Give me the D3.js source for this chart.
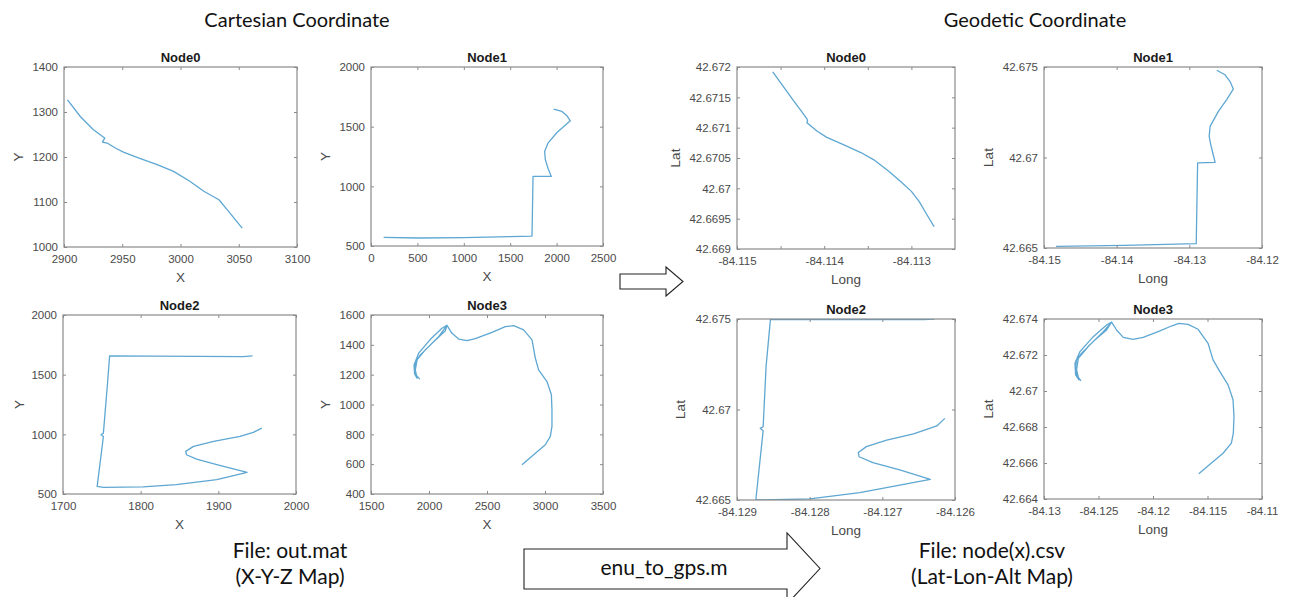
<!DOCTYPE html>
<html>
<head>
<meta charset="utf-8">
<script src="https://cdn.jsdelivr.net/npm/d3@7"></script>
<style>
  html, body { margin: 0; padding: 0; background: #fff; }
  svg { display: block; }
</style>
</head>
<body>
<svg id="chart" width="1291" height="597"></svg>
<script>
// ---------------- DATA ----------------
// Cartesian coordinate trajectories [X, Y]
const cartNode0 = [[2903,1327],[2914,1290],[2925,1261],[2934,1244],[2935,1242],[2933,1233],[2937,1231],[2944,1220],[2951,1211],[2965,1197],[2980,1183],[2994,1168],[3008,1146],[3020,1124],[3033,1105],[3040,1083],[3047,1061],[3053,1042]];
const cartNode1 = [[136,572],[500,567],[1000,570],[1500,578],[1735,583],[1746,1083],[1943,1083],[1907,1152],[1879,1222],[1871,1292],[1907,1362],[2004,1451],[2148,1549],[2112,1591],[2058,1628],[1968,1647]];
const cartNode2 = [[1944,1657],[1932,1652],[1760,1657],[1757,1401],[1752,1010],[1749,996],[1752,982],[1744,564],[1752,556],[1803,559],[1846,578],[1898,620],[1937,681],[1898,746],[1872,793],[1859,829],[1858,857],[1868,899],[1894,941],[1928,983],[1945,1016],[1956,1052]];
const cartNode3 = [[1920,1170],[1888,1199],[1876,1243],[1888,1288],[1925,1332],[2026,1410],[2141,1495],[2155,1531],[2112,1511],[2012,1437],[1911,1344],[1871,1265],[1876,1205],[1897,1176],[1882,1232],[1897,1299],[1968,1366],[2083,1455],[2155,1531],[2198,1477],[2256,1439],[2328,1428],[2399,1442],[2543,1484],[2658,1522],[2730,1529],[2816,1500],[2888,1433],[2917,1310],[2945,1232],[3017,1154],[3055,1065],[3060,964],[3060,853],[3046,786],[3003,730],[2917,674],[2802,596]];

// Geodetic coordinate trajectories [Long, Lat]
const geoNode0 = [[-84.11459,42.67192],[-84.11447,42.67168],[-84.11435,42.67144],[-84.11426,42.67127],[-84.11420,42.67115],[-84.11419,42.67111],[-84.11420,42.67108],[-84.11417,42.67105],[-84.11408,42.67094],[-84.11397,42.67084],[-84.11378,42.67072],[-84.11358,42.67059],[-84.11343,42.67047],[-84.11326,42.67028],[-84.11312,42.67011],[-84.11300,42.66995],[-84.11291,42.66978],[-84.11282,42.66956],[-84.11274,42.66937]];
const geoNode1 = [[-84.14836,42.66509],[-84.13895,42.66515],[-84.12905,42.66524],[-84.12886,42.66970],[-84.12645,42.66973],[-84.12677,42.67025],[-84.12705,42.67071],[-84.12727,42.67117],[-84.12714,42.67172],[-84.12600,42.67255],[-84.12486,42.67320],[-84.12395,42.67378],[-84.12441,42.67421],[-84.12509,42.67457],[-84.12623,42.67482]];
const geoNode2 = [[-84.12628,42.67500],[-84.12644,42.67496],[-84.12854,42.67498],[-84.12860,42.67237],[-84.12864,42.66905],[-84.12868,42.66896],[-84.12864,42.66883],[-84.12874,42.66504],[-84.12869,42.66500],[-84.12800,42.66506],[-84.12731,42.66541],[-84.12634,42.66614],[-84.12676,42.66666],[-84.12713,42.66706],[-84.12732,42.66739],[-84.12733,42.66762],[-84.12722,42.66795],[-84.12694,42.66831],[-84.12657,42.66865],[-84.12625,42.66909],[-84.12614,42.66951]];
const geoNode3 = [[-84.12661,42.67056],[-84.12701,42.67089],[-84.12710,42.67136],[-84.12701,42.67173],[-84.12655,42.67210],[-84.12533,42.67284],[-84.12426,42.67339],[-84.12380,42.67383],[-84.12426,42.67367],[-84.12548,42.67302],[-84.12670,42.67219],[-84.12716,42.67154],[-84.12710,42.67089],[-84.12679,42.67062],[-84.12701,42.67117],[-84.12685,42.67182],[-84.12594,42.67247],[-84.12456,42.67330],[-84.12380,42.67383],[-84.12334,42.67339],[-84.12273,42.67298],[-84.12182,42.67287],[-84.12090,42.67298],[-84.11953,42.67330],[-84.11831,42.67361],[-84.11763,42.67376],[-84.11678,42.67370],[-84.11586,42.67343],[-84.11495,42.67265],[-84.11449,42.67173],[-84.11388,42.67109],[-84.11311,42.67034],[-84.11266,42.66951],[-84.11257,42.66858],[-84.11263,42.66766],[-84.11281,42.66710],[-84.11357,42.66654],[-84.11464,42.66600],[-84.11580,42.66540]];

// Tick values and labels
const cartNode0XTicks = [2900,2950,3000,3050,3100];
const cartNode0XLabels = ["2900","2950","3000","3050","3100"];
const cartNode0YTicks = [1000,1100,1200,1300,1400];
const cartNode0YLabels = ["1000","1100","1200","1300","1400"];

const cartNode1XTicks = [0,500,1000,1500,2000,2500];
const cartNode1XLabels = ["0","500","1000","1500","2000","2500"];
const cartNode1YTicks = [500,1000,1500,2000];
const cartNode1YLabels = ["500","1000","1500","2000"];

const cartNode2XTicks = [1700,1800,1900,2000];
const cartNode2XLabels = ["1700","1800","1900","2000"];
const cartNode2YTicks = [500,1000,1500,2000];
const cartNode2YLabels = ["500","1000","1500","2000"];

const cartNode3XTicks = [1500,2000,2500,3000,3500];
const cartNode3XLabels = ["1500","2000","2500","3000","3500"];
const cartNode3YTicks = [400,600,800,1000,1200,1400,1600];
const cartNode3YLabels = ["400","600","800","1000","1200","1400","1600"];

const geoNode0XTicks = [-84.115,-84.1145,-84.114,-84.1135,-84.113];
const geoNode0XLabels = ["-84.115","","-84.114","","-84.113"];
const geoNode0YTicks = [42.669,42.6695,42.67,42.6705,42.671,42.6715,42.672];
const geoNode0YLabels = ["42.669","42.6695","42.67","42.6705","42.671","42.6715","42.672"];

const geoNode1XTicks = [-84.15,-84.14,-84.13,-84.12];
const geoNode1XLabels = ["-84.15","-84.14","-84.13","-84.12"];
const geoNode1YTicks = [42.665,42.67,42.675];
const geoNode1YLabels = ["42.665","42.67","42.675"];

const geoNode2XTicks = [-84.129,-84.128,-84.127,-84.126];
const geoNode2XLabels = ["-84.129","-84.128","-84.127","-84.126"];
const geoNode2YTicks = [42.665,42.67,42.675];
const geoNode2YLabels = ["42.665","42.67","42.675"];

const geoNode3XTicks = [-84.13,-84.125,-84.12,-84.115,-84.11];
const geoNode3XLabels = ["-84.13","-84.125","-84.12","-84.115","-84.11"];
const geoNode3YTicks = [42.664,42.666,42.668,42.67,42.672,42.674];
const geoNode3YLabels = ["42.664","42.666","42.668","42.67","42.672","42.674"];

// ---------------- LAYOUT ----------------
const panels = [
  {title:"Node0", data:cartNode0, xd:[2900,3100], yd:[1000,1400], xt:cartNode0XTicks, xl:cartNode0XLabels, yt:cartNode0YTicks, yl:cartNode0YLabels, xlab:"X", ylab:"Y", box:[64,67,297,247], ylabOff:46},
  {title:"Node1", data:cartNode1, xd:[0,2500], yd:[500,2000], xt:cartNode1XTicks, xl:cartNode1XLabels, yt:cartNode1YTicks, yl:cartNode1YLabels, xlab:"X", ylab:"Y", box:[371,67,603,246], ylabOff:46},
  {title:"Node2", data:cartNode2, xd:[1700,2000], yd:[500,2000], xt:cartNode2XTicks, xl:cartNode2XLabels, yt:cartNode2YTicks, yl:cartNode2YLabels, xlab:"X", ylab:"Y", box:[63,315,296,494], ylabOff:44},
  {title:"Node3", data:cartNode3, xd:[1500,3500], yd:[400,1600], xt:cartNode3XTicks, xl:cartNode3XLabels, yt:cartNode3YTicks, yl:cartNode3YLabels, xlab:"X", ylab:"Y", box:[371,315,603,494], ylabOff:46},
  {title:"Node0", data:geoNode0, xd:[-84.115,-84.1125], yd:[42.669,42.672], xt:geoNode0XTicks, xl:geoNode0XLabels, yt:geoNode0YTicks, yl:geoNode0YLabels, xlab:"Long", ylab:"Lat", box:[737,67,955,249], ylabOff:62},
  {title:"Node1", data:geoNode1, xd:[-84.15,-84.12], yd:[42.665,42.675], xt:geoNode1XTicks, xl:geoNode1XLabels, yt:geoNode1YTicks, yl:geoNode1YLabels, xlab:"Long", ylab:"Lat", box:[1044,67,1262,248], ylabOff:56},
  {title:"Node2", data:geoNode2, xd:[-84.129,-84.126], yd:[42.665,42.675], xt:geoNode2XTicks, xl:geoNode2XLabels, yt:geoNode2YTicks, yl:geoNode2YLabels, xlab:"Long", ylab:"Lat", box:[737,319,955,500], ylabOff:57},
  {title:"Node3", data:geoNode3, xd:[-84.13,-84.11], yd:[42.664,42.674], xt:geoNode3XTicks, xl:geoNode3XLabels, yt:geoNode3YTicks, yl:geoNode3YLabels, xlab:"Long", ylab:"Lat", box:[1044,319,1262,499], ylabOff:56}
];

const svg = d3.select("#chart");
const axFont = "'Liberation Sans', Arial, Helvetica, sans-serif";
const txtFont = "Lato, 'Open Sans', sans-serif";
const boxColor = "#8a8a8a";
const tickColor = "#4a4a4a";
const lineColor = "#5ea7d2";
const tickLen = 3;

panels.forEach(p => {
  const [x0, y0, x1, y1] = p.box;
  const xs = d3.scaleLinear().domain(p.xd).range([x0, x1]);
  const ys = d3.scaleLinear().domain(p.yd).range([y1, y0]);
  const g = svg.append("g");

  // Trajectory (clipped to box)
  const clipId = "clip" + x0 + "_" + y0;
  svg.append("clipPath").attr("id", clipId).append("rect")
    .attr("x", x0).attr("y", y0).attr("width", x1 - x0).attr("height", y1 - y0);
  g.append("path")
    .datum(p.data)
    .attr("clip-path", `url(#${clipId})`)
    .attr("fill", "none")
    .attr("stroke", lineColor)
    .attr("stroke-width", 1.3)
    .attr("stroke-linejoin", "round")
    .attr("d", d3.line().x(d => xs(d[0])).y(d => ys(d[1])));

  // Axes (bottom/left with labels, top/right ticks only) - inward ticks
  const xAxisB = d3.axisBottom(xs).tickValues(p.xt).tickSize(-tickLen).tickPadding(8).tickFormat((d,i) => p.xl[i]);
  const xAxisT = d3.axisTop(xs).tickValues(p.xt).tickSize(-tickLen).tickFormat("");
  const yAxisL = d3.axisLeft(ys).tickValues(p.yt).tickSize(-tickLen).tickPadding(6).tickFormat((d,i) => p.yl[i]);
  const yAxisR = d3.axisRight(ys).tickValues(p.yt).tickSize(-tickLen).tickFormat("");

  const styleAxis = sel => {
    sel.select(".domain").remove();
    sel.selectAll(".tick line").attr("stroke", boxColor).attr("stroke-width", 1);
    sel.selectAll(".tick text").attr("fill", tickColor).style("font-family", axFont).style("font-size", "11.5px");
  };
  g.append("g").attr("transform", `translate(0,${y1})`).call(xAxisB).call(styleAxis);
  g.append("g").attr("transform", `translate(0,${y0})`).call(xAxisT).call(styleAxis);
  g.append("g").attr("transform", `translate(${x0},0)`).call(yAxisL).call(styleAxis);
  g.append("g").attr("transform", `translate(${x1},0)`).call(yAxisR).call(styleAxis);

  // Box
  g.append("rect").attr("x", x0).attr("y", y0).attr("width", x1 - x0).attr("height", y1 - y0)
    .attr("fill", "none").attr("stroke", boxColor).attr("stroke-width", 1.2);

  // Title
  g.append("text").attr("x", (x0 + x1) / 2).attr("y", y0 - 5)
    .attr("text-anchor", "middle").style("font-family", axFont).style("font-weight", "bold")
    .style("font-size", "13px").attr("fill", "#1a1a1a").text(p.title);

  // X label
  g.append("text").attr("x", (x0 + x1) / 2).attr("y", y1 + 35)
    .attr("text-anchor", "middle").style("font-family", axFont).style("font-size", "13.5px")
    .attr("fill", tickColor).text(p.xlab);

  // Y label
  const cy = (y0 + y1) / 2, cx = x0 - p.ylabOff;
  g.append("text").attr("transform", `translate(${cx + 5},${cy}) rotate(-90)`)
    .attr("text-anchor", "middle").style("font-family", axFont).style("font-size", "13.5px")
    .attr("fill", tickColor).text(p.ylab);
});

// Section titles
svg.append("text").attr("x", 297).attr("y", 27).attr("text-anchor", "middle")
  .style("font-family", txtFont).style("font-size", "20px").attr("fill", "#111").text("Cartesian Coordinate");
svg.append("text").attr("x", 1035).attr("y", 27).attr("text-anchor", "middle")
  .style("font-family", txtFont).style("font-size", "20px").attr("fill", "#111").text("Geodetic Coordinate");

// Small arrow
svg.append("path")
  .attr("d", "M620,274 L666,274 L666,267 L683,281.5 L666,296 L666,289 L620,289 Z")
  .attr("fill", "#fff").attr("stroke", "#222").attr("stroke-width", 1.1);

// Big arrow
svg.append("path")
  .attr("d", "M524,549 L787,549 L787,533 L820,568.5 L787,604 L787,589 L524,589 Z")
  .attr("fill", "#fff").attr("stroke", "#222").attr("stroke-width", 1.1);
svg.append("text").attr("x", 664).attr("y", 575).attr("text-anchor", "middle")
  .style("font-family", txtFont).style("font-size", "21px").attr("fill", "#111").text("enu_to_gps.m");

// File captions
svg.append("text").attr("x", 290).attr("y", 558).attr("text-anchor", "middle")
  .style("font-family", txtFont).style("font-size", "21px").attr("fill", "#111").text("File: out.mat");
svg.append("text").attr("x", 290).attr("y", 584).attr("text-anchor", "middle")
  .style("font-family", txtFont).style("font-size", "21px").attr("fill", "#111").text("(X-Y-Z Map)");
svg.append("text").attr("x", 992).attr("y", 558).attr("text-anchor", "middle")
  .style("font-family", txtFont).style("font-size", "21px").attr("fill", "#111").text("File: node(x).csv");
svg.append("text").attr("x", 992).attr("y", 584).attr("text-anchor", "middle")
  .style("font-family", txtFont).style("font-size", "21px").attr("fill", "#111").text("(Lat-Lon-Alt Map)");
</script>
</body>
</html>
